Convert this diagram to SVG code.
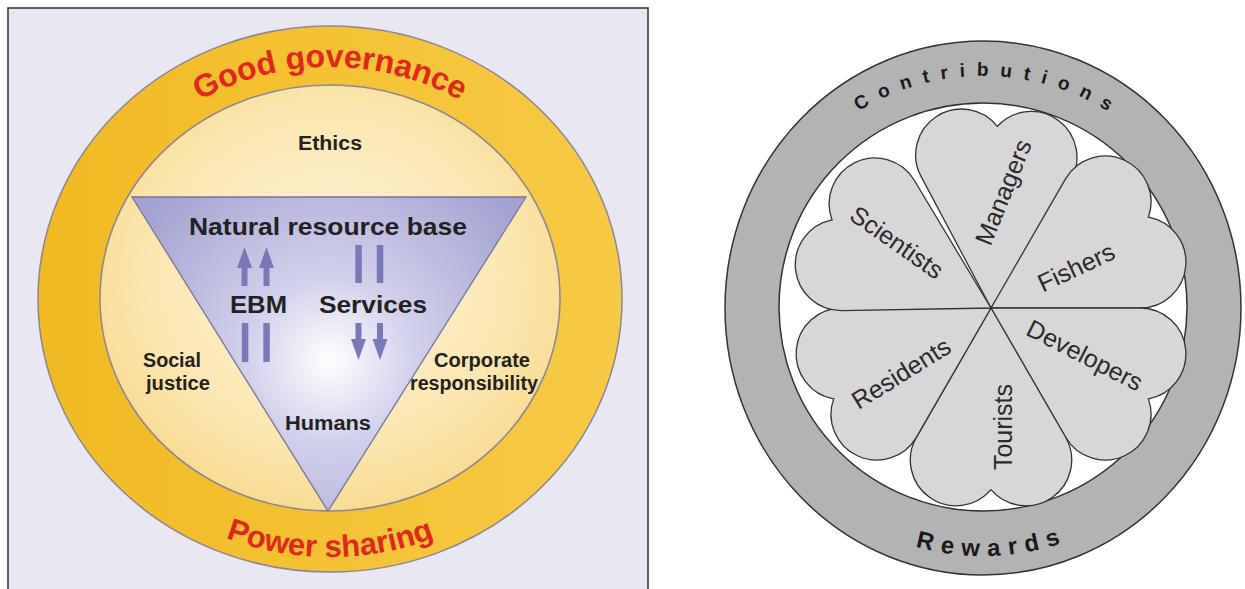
<svg xmlns="http://www.w3.org/2000/svg" width="1245" height="589" viewBox="0 0 1245 589">
<style>
.lbl{font-family:"Liberation Sans",Arial,sans-serif;font-weight:bold;fill:#222}
.red{font-family:"Liberation Sans",Arial,sans-serif;font-weight:bold;fill:#e3261b;font-size:32px}
.pet{font-family:"Liberation Sans",Arial,sans-serif;fill:#2a2a2a;font-size:25px}
.ring{font-family:"Liberation Sans",Arial,sans-serif;font-weight:bold;fill:#1a1a1a}
.arw{fill:#7b78b8}
.heart{fill:#d7d7d7;stroke:#333;stroke-width:1.3}
</style>
<defs>
<linearGradient id="gold" x1="0" y1="0" x2="1" y2="0">
<stop offset="0" stop-color="#f1ba22"/><stop offset="1" stop-color="#f7ca46"/>
</linearGradient>
<radialGradient id="cream" cx="0.5" cy="0.45" r="0.55">
<stop offset="0" stop-color="#fdf4dc"/><stop offset="0.7" stop-color="#fbe7b2"/><stop offset="1" stop-color="#f8dc92"/>
</radialGradient>
<radialGradient id="lav" gradientUnits="userSpaceOnUse" cx="330" cy="360" r="230">
<stop offset="0" stop-color="#ffffff"/><stop offset="0.35" stop-color="#d3d2ec"/><stop offset="1" stop-color="#a4a3d2"/>
</radialGradient>
<path id="topArc" d="M79,298 A251,231 0 0 1 581,298"/>
<path id="botArc" d="M53,298 A277,259 0 0 0 607,298"/>
<path id="cTop" d="M748,308 A235,232 0 0 1 1218,308"/>
<path id="cBot" d="M736,308 A247,248 0 0 0 1230,308"/>
<path id="heart" d="M0,0 L74.65,-129.3 A45.8,45.8 0 0 0 0,-181.7 A45.8,45.8 0 0 0 -74.65,-129.3 Z"/>
</defs>
<rect width="1245" height="589" fill="#ffffff"/>

<!-- Left panel -->
<g id="panel-left">
<rect x="8" y="8" width="640" height="600" fill="#e8e7f2" stroke="#333" stroke-width="1.5"/>
</g>
<g id="good-governance-ring">
<ellipse cx="330" cy="299" rx="292" ry="273" fill="url(#gold)" stroke="#8c8597" stroke-width="1.5"/>
<text class="red"><textPath href="#topArc" startOffset="50%" text-anchor="middle">Good governance</textPath></text>
<text class="red" font-size="31" style="font-size:31px"><textPath href="#botArc" startOffset="50%" text-anchor="middle">Power sharing</textPath></text>
</g>
<g id="ethics-circle">
<ellipse cx="330" cy="298" rx="230" ry="213" fill="url(#cream)" stroke="#8c8597" stroke-width="1.5"/>
<text class="lbl" x="330" y="150" font-size="20" text-anchor="middle" textLength="64" lengthAdjust="spacingAndGlyphs">Ethics</text>
<text class="lbl" x="143" y="367" font-size="19.5" textLength="58" lengthAdjust="spacingAndGlyphs">Social</text>
<text class="lbl" x="146" y="390" font-size="19.5" textLength="64" lengthAdjust="spacingAndGlyphs">justice</text>
<text class="lbl" x="482" y="367" font-size="19.5" text-anchor="middle" textLength="96" lengthAdjust="spacingAndGlyphs">Corporate</text>
<text class="lbl" x="474" y="390" font-size="19.5" text-anchor="middle" textLength="128" lengthAdjust="spacingAndGlyphs">responsibility</text>
</g>
<g id="triangle">
<polygon points="132,197 526,197 328,511" fill="url(#lav)" stroke="#77739a" stroke-width="1.3"/>
<text class="lbl" x="328" y="235" font-size="24" text-anchor="middle" textLength="278" lengthAdjust="spacingAndGlyphs">Natural resource base</text>
<text class="lbl" x="258.5" y="313" font-size="24" text-anchor="middle" textLength="57" lengthAdjust="spacingAndGlyphs">EBM</text>
<text class="lbl" x="373" y="313" font-size="24" text-anchor="middle" textLength="108" lengthAdjust="spacingAndGlyphs">Services</text>
<text class="lbl" x="328" y="430" font-size="19.5" text-anchor="middle" textLength="86" lengthAdjust="spacingAndGlyphs">Humans</text>
</g>
<g id="connectors">
<path class="arw" d="M244.5,247 L252,268 L247.5,268 L247.5,286 L241.5,286 L241.5,268 L237,268 Z"/>
<path class="arw" d="M266.5,247 L274,268 L269.5,268 L269.5,286 L263.5,286 L263.5,268 L259,268 Z"/>
<rect class="arw" x="241.8" y="323" width="6.5" height="39"/>
<rect class="arw" x="263.3" y="323" width="6.5" height="39"/>
<rect class="arw" x="355.3" y="245" width="6.5" height="38"/>
<rect class="arw" x="376.8" y="245" width="6.5" height="38"/>
<path class="arw" d="M358.5,360 L351,339 L355.5,339 L355.5,323 L361.5,323 L361.5,339 L366,339 Z"/>
<path class="arw" d="M380,360 L372.5,339 L377,339 L377,323 L383,323 L383,339 L387.5,339 Z"/>
</g>

<!-- Right panel -->
<g id="outer-ring">
<ellipse cx="983" cy="308" rx="258" ry="267" fill="#b3b3b3" stroke="#333" stroke-width="1.5"/>
<circle cx="983" cy="307" r="204" fill="#ffffff" stroke="#333" stroke-width="1.5"/>
<text class="ring" font-size="19" letter-spacing="11.5"><textPath href="#cTop" startOffset="50.8%" text-anchor="middle">Contributions</textPath></text>
<text class="ring" font-size="24" letter-spacing="8"><textPath href="#cBot" startOffset="51.2%" text-anchor="middle">Rewards</textPath></text>
</g>
<g id="petal-managers">
<use href="#heart" class="heart" transform="translate(991,308) rotate(2)"/>
<text class="pet" x="1003" y="192" text-anchor="middle" dominant-baseline="central" transform="rotate(-68 1003 192)">Managers</text>
</g>
<g id="petal-fishers">
<use href="#heart" class="heart" transform="translate(991,308) rotate(60)"/>
<text class="pet" x="1076" y="267" text-anchor="middle" dominant-baseline="central" transform="rotate(-25 1076 267)">Fishers</text>
</g>
<g id="petal-developers">
<use href="#heart" class="heart" transform="translate(991,308) rotate(120)"/>
<text class="pet" x="1085" y="355" text-anchor="middle" dominant-baseline="central" transform="rotate(27 1085 355)">Developers</text>
</g>
<g id="petal-tourists">
<use href="#heart" class="heart" transform="translate(991,308) rotate(180)"/>
<text class="pet" x="1003" y="427" text-anchor="middle" dominant-baseline="central" transform="rotate(-90 1003 427)">Tourists</text>
</g>
<g id="petal-residents">
<use href="#heart" class="heart" transform="translate(991,308) rotate(240)"/>
<text class="pet" x="901" y="373" text-anchor="middle" dominant-baseline="central" transform="rotate(-32 901 373)">Residents</text>
</g>
<g id="petal-scientists">
<use href="#heart" class="heart" transform="translate(991,308) rotate(299)"/>
<text class="pet" x="897" y="242" text-anchor="middle" dominant-baseline="central" transform="rotate(35 897 242)">Scientists</text>
</g>
</svg>
